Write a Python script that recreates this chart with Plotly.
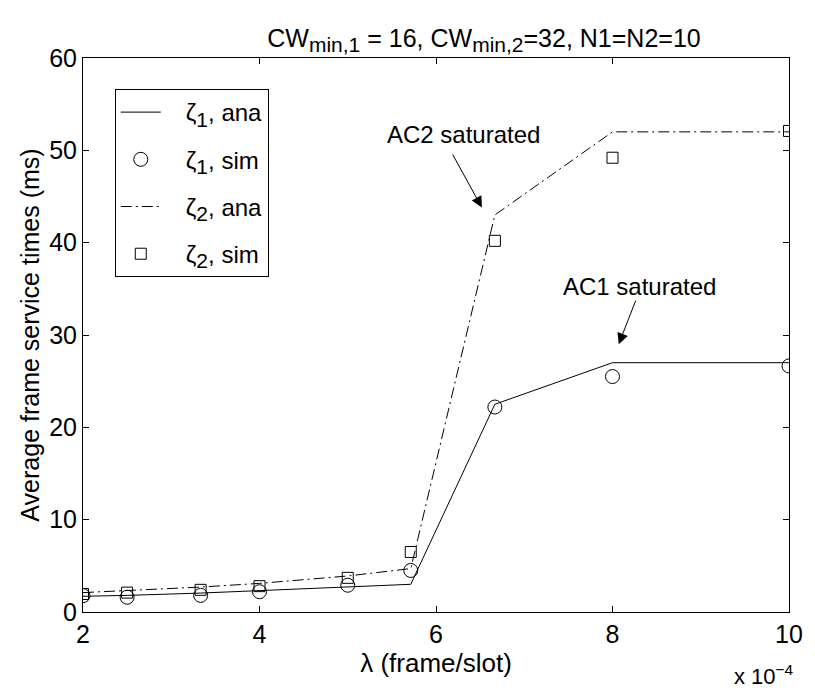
import plotly.graph_objects as go

# Arrival rate, in units of 1e-4 frame/slot
lam = [2.0, 2.5, 3.333, 4.0, 5.0, 5.714, 6.667, 8.0, 10.0]

# Average frame service times (ms)
zeta1_ana = [1.7, 1.8, 2.05, 2.3, 2.7, 3.0, 22.5, 27.0, 27.0]
zeta1_sim = [1.77, 1.6, 1.8, 2.2, 2.9, 4.5, 22.2, 25.5, 26.65]
zeta2_ana = [2.1, 2.3, 2.7, 3.1, 3.9, 4.7, 43.0, 52.0, 52.0]
zeta2_sim = [1.95, 2.1, 2.4, 2.8, 3.7, 6.5, 40.2, 49.2, 52.1]

x_ticks = [2, 4, 6, 8, 10]
y_ticks = [0, 10, 20, 30, 40, 50, 60]

FONT = "Liberation Sans, Arial, sans-serif"
FS = 25


def sub(s, size=21):
    # Subscripts drawn close to full size, as in MATLAB TeX rendering
    return f"<sub><span style='font-size:{size}px'>{s}</span></sub>"


PAD = "\u00a0\u00a0\u00a0"

fig = go.Figure()
fig.add_trace(go.Scatter(x=lam, y=zeta1_ana, mode="lines",
                         line=dict(color="black", width=1),
                         name=PAD + "ζ" + sub("1") + ", ana", legendgroup="a"))
fig.add_trace(go.Scatter(x=lam, y=zeta1_sim, mode="markers",
                         marker=dict(symbol="circle-open", size=14, color="black",
                                     line=dict(width=1)),
                         name=PAD + "ζ" + sub("1") + ", sim", legendgroup="b"))
fig.add_trace(go.Scatter(x=lam, y=zeta2_ana, mode="lines",
                         line=dict(color="black", width=1, dash="11px,4px,2px,4px"),
                         name=PAD + "ζ" + sub("2") + ", ana", legendgroup="c"))
fig.add_trace(go.Scatter(x=lam, y=zeta2_sim, mode="markers",
                         marker=dict(symbol="square-open", size=11, color="black",
                                     line=dict(width=1)),
                         name=PAD + "ζ" + sub("2") + ", sim", legendgroup="d"))

axis_common = dict(showline=True, linecolor="black", linewidth=1, mirror="ticks",
                   ticks="inside", ticklen=6, tickcolor="black", showgrid=False,
                   zeroline=False, tickfont=dict(family=FONT, size=FS, color="black"))

fig.update_xaxes(range=[2, 10], tickvals=x_ticks, ticktext=[str(v) for v in x_ticks],
                 title=dict(text="λ (frame/slot)", font=dict(family=FONT, size=FS + 1, color="black"),
                            standoff=2),
                 **axis_common)
fig.update_yaxes(range=[0, 60], tickvals=y_ticks, ticktext=[str(v) for v in y_ticks],
                 title=dict(text="Average frame service times (ms)",
                            font=dict(family=FONT, size=FS, color="black"), standoff=2),
                 **axis_common)

annotations = [
    # Arrow for AC2 saturation
    dict(x=6.52, y=43.8, ax=6.18, ay=49.7, xref="x", yref="y", axref="x", ayref="y",
         text="", showarrow=True, arrowhead=2, arrowsize=2.2, arrowwidth=1, arrowcolor="black"),
    dict(x=6.31, y=51.7, xref="x", yref="y", text="AC2 saturated", showarrow=False,
         font=dict(family=FONT, size=24, color="black")),
    # Arrow for AC1 saturation
    dict(x=8.07, y=29.0, ax=8.27, ay=33.9, xref="x", yref="y", axref="x", ayref="y",
         text="", showarrow=True, arrowhead=2, arrowsize=2.2, arrowwidth=1, arrowcolor="black"),
    dict(x=8.31, y=35.2, xref="x", yref="y", text="AC1 saturated", showarrow=False,
         font=dict(family=FONT, size=24, color="black")),
    # Axis scale factor
    dict(x=1.01, y=-0.142, xref="paper", yref="paper", xanchor="right", yanchor="bottom",
         text="x 10<sup>−4</sup>", showarrow=False,
         font=dict(family=FONT, size=22, color="black")),
]

fig.update_layout(
    width=815, height=691,
    margin=dict(l=83, r=17, t=58, b=79),
    paper_bgcolor="white", plot_bgcolor="white",
    title=dict(text="CW" + sub("min,1") + " = 16, CW" + sub("min,2") + "=32, N1=N2=10",
               x=0.568, xanchor="center", xref="paper",
               y=0.958, yanchor="top",
               font=dict(family=FONT, size=FS, color="black")),
    legend=dict(x=0.045, y=0.944, xanchor="left", yanchor="top",
                bordercolor="black", borderwidth=1, bgcolor="white",
                font=dict(family=FONT, size=24, color="black"),
                tracegroupgap=13, itemwidth=40),
    annotations=annotations,
)

fig.write_html("out.html")
